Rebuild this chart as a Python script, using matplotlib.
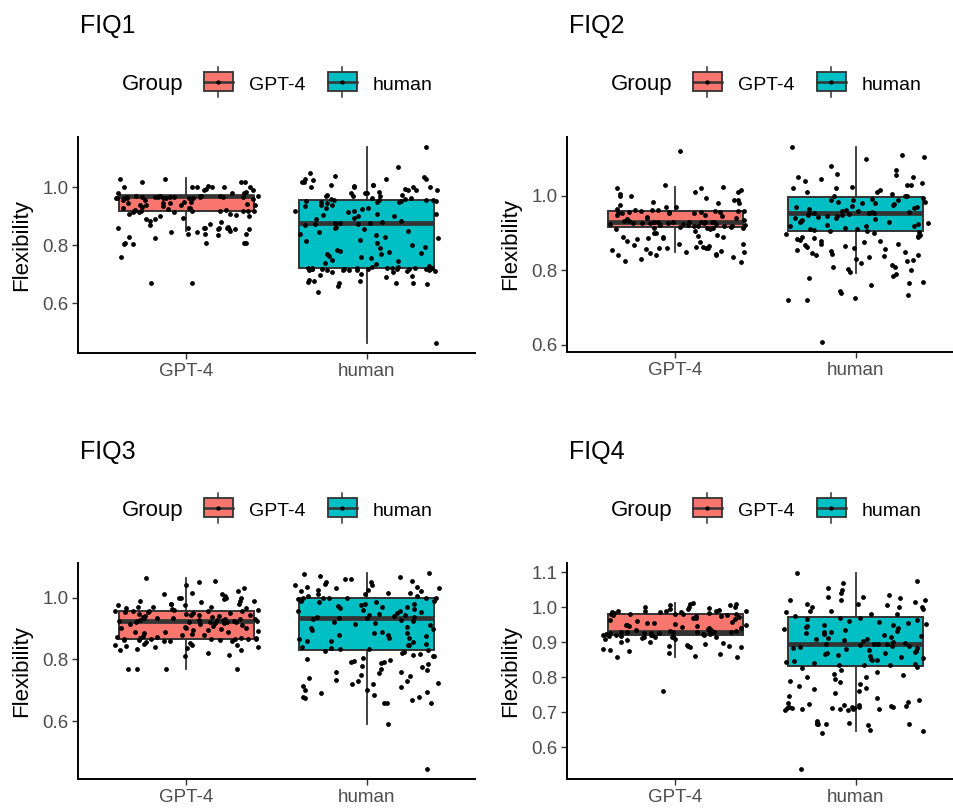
import matplotlib
matplotlib.use("Agg")
import matplotlib.pyplot as plt
from matplotlib.patches import Rectangle
import numpy as np

plt.rcParams['font.family'] = ['Liberation Sans', 'DejaVu Sans']

# ---------------- data ----------------
groups = ["GPT-4", "human"]
panel_titles = ["FIQ1", "FIQ2", "FIQ3", "FIQ4"]
fill_colors = ["#F8766D", "#00BFC4"]

gpt_fiq1 = [1.03, 1.03, 1.02, 1.02, 1.02,
            1.005, 1.0, 1.0, 1.0, 1.0, 1.0, 1.0, 0.995, 0.99, 0.99, 0.985, 0.98, 0.98, 0.98,
            0.972, 0.971, 0.970, 0.970, 0.969, 0.969, 0.968, 0.968, 0.968, 0.967, 0.967, 0.967,
            0.966, 0.966, 0.966, 0.965, 0.965, 0.965, 0.964, 0.964, 0.963, 0.963, 0.962,
            0.96, 0.955, 0.955, 0.95, 0.95, 0.948, 0.945, 0.945, 0.943, 0.94, 0.94, 0.94, 0.938,
            0.935, 0.933, 0.93, 0.93, 0.928, 0.925,
            0.922, 0.921, 0.92, 0.92, 0.919, 0.918, 0.918, 0.917, 0.917, 0.916, 0.915, 0.915,
            0.91, 0.91, 0.905, 0.90, 0.90, 0.895, 0.89, 0.89, 0.885, 0.88, 0.875, 0.87,
            0.862, 0.861, 0.86, 0.86, 0.86, 0.86, 0.859, 0.858, 0.858, 0.857, 0.855,
            0.85, 0.848, 0.845, 0.84, 0.84, 0.838, 0.835, 0.83, 0.825,
            0.81, 0.81, 0.808, 0.807, 0.806, 0.805, 0.76, 0.67, 0.67]

hum_fiq1 = [1.14, 1.07, 1.05, 1.04, 1.035, 1.03, 1.03, 1.03, 1.025, 1.02, 1.02, 1.01, 1.01, 1.01,
            1.005, 1.0, 1.0, 1.0, 1.0, 0.995, 0.99, 0.99, 0.99, 0.985, 0.98, 0.98, 0.98, 0.975,
            0.975, 0.97, 0.97, 0.97, 0.965, 0.965, 0.96, 0.96,
            0.957, 0.956, 0.955, 0.955, 0.954, 0.953, 0.952, 0.951, 0.95, 0.95,
            0.945, 0.94, 0.94, 0.935, 0.93, 0.93, 0.925, 0.92, 0.92, 0.915, 0.91, 0.91, 0.905,
            0.90, 0.90, 0.895, 0.89, 0.885, 0.88, 0.878, 0.877, 0.876, 0.875, 0.874, 0.87, 0.865,
            0.86, 0.855, 0.85, 0.845, 0.84, 0.835, 0.83, 0.825, 0.82, 0.815, 0.81, 0.80, 0.795,
            0.79, 0.785, 0.78, 0.778, 0.775, 0.772, 0.77, 0.765, 0.76, 0.755, 0.75, 0.745, 0.74,
            0.735, 0.73,
            0.725, 0.724, 0.723, 0.723, 0.722, 0.722, 0.722, 0.721, 0.721, 0.721, 0.72, 0.72,
            0.72, 0.72, 0.72, 0.719, 0.719, 0.719, 0.718, 0.718, 0.717, 0.717, 0.716, 0.716,
            0.715, 0.714, 0.713, 0.712, 0.71, 0.708,
            0.70, 0.698, 0.695, 0.69, 0.68, 0.678, 0.676, 0.675, 0.672, 0.67, 0.67, 0.668, 0.66,
            0.64, 0.463]

gpt_fiq2 = [1.12, 1.03, 1.025, 1.02, 1.02, 1.015, 1.01, 1.01, 1.005, 1.0, 1.0, 0.995, 0.99, 0.99,
            0.985, 0.98, 0.98, 0.975, 0.97, 0.97,
            0.965, 0.963, 0.962, 0.961, 0.96, 0.96, 0.96, 0.959, 0.958, 0.958, 0.957, 0.956,
            0.955, 0.955, 0.954, 0.953, 0.95, 0.948, 0.945, 0.943, 0.94, 0.94, 0.938, 0.935,
            0.933, 0.932, 0.931, 0.931, 0.93, 0.93, 0.93, 0.93, 0.929, 0.929, 0.928, 0.928, 0.927,
            0.927, 0.926, 0.925, 0.925, 0.924, 0.923, 0.922, 0.921, 0.92, 0.92, 0.919, 0.918,
            0.917, 0.916, 0.915, 0.915, 0.914, 0.913, 0.912, 0.91,
            0.905, 0.90, 0.90, 0.895, 0.893, 0.89, 0.89, 0.89, 0.888, 0.886, 0.885, 0.88, 0.875,
            0.87, 0.87, 0.868,
            0.865, 0.862, 0.862, 0.861, 0.86, 0.86, 0.86, 0.858, 0.855, 0.853, 0.85, 0.85, 0.848,
            0.845, 0.842, 0.84, 0.84, 0.835, 0.83, 0.825, 0.822]

hum_fiq2 = [1.132, 1.11, 1.105, 1.1, 1.08, 1.07, 1.06, 1.055, 1.05, 1.05, 1.045, 1.04, 1.035,
            1.03, 1.03, 1.025, 1.02, 1.02, 1.015, 1.01, 1.01, 1.005, 1.0, 1.0, 1.0,
            0.995, 0.993, 0.99, 0.99, 0.988, 0.985, 0.983, 0.98, 0.98, 0.978, 0.975, 0.973, 0.97,
            0.97, 0.968, 0.965, 0.963, 0.96, 0.96, 0.958, 0.957, 0.955, 0.955, 0.954, 0.953, 0.952,
            0.95, 0.948, 0.946, 0.945, 0.943, 0.94, 0.94, 0.938, 0.935, 0.933, 0.93, 0.93, 0.928,
            0.925, 0.922, 0.92, 0.92, 0.918, 0.915, 0.912, 0.91, 0.908, 0.906, 0.905, 0.904,
            0.90, 0.898, 0.895, 0.892, 0.89, 0.89, 0.888, 0.885, 0.882, 0.88, 0.878, 0.875, 0.872,
            0.87, 0.868, 0.865, 0.862, 0.86, 0.858, 0.855, 0.852, 0.85, 0.848, 0.845, 0.842, 0.84,
            0.838, 0.835, 0.83, 0.828, 0.825, 0.82, 0.815, 0.81, 0.81, 0.805, 0.80, 0.795,
            0.79, 0.785, 0.78, 0.77, 0.765, 0.76, 0.745, 0.74, 0.735, 0.725, 0.72, 0.72, 0.607]

gpt_fiq3 = [1.062, 1.055, 1.05, 1.04, 1.03, 1.02, 1.015, 1.01, 1.01, 1.005, 1.0, 1.0, 1.0, 1.0,
            0.995, 0.99, 0.99, 0.99, 0.985, 0.98, 0.98, 0.98, 0.975, 0.975, 0.97, 0.97, 0.968,
            0.965, 0.965, 0.962, 0.96, 0.96,
            0.958, 0.957, 0.956, 0.955, 0.955, 0.953, 0.952, 0.95, 0.95, 0.948, 0.946, 0.945,
            0.943, 0.942, 0.94, 0.94, 0.938, 0.937, 0.935, 0.934, 0.933, 0.932, 0.93, 0.93, 0.929,
            0.928, 0.927, 0.926, 0.925, 0.924, 0.923, 0.923, 0.922, 0.922,
            0.921, 0.92, 0.92, 0.918, 0.917, 0.915, 0.913, 0.91, 0.908, 0.905, 0.903, 0.90, 0.90,
            0.898, 0.896, 0.895, 0.893, 0.89, 0.89, 0.888, 0.885, 0.883, 0.88, 0.878, 0.875, 0.873,
            0.872, 0.87, 0.869, 0.868, 0.867, 0.867, 0.866, 0.866, 0.865, 0.865, 0.864, 0.864,
            0.862, 0.86, 0.86, 0.858, 0.855, 0.852, 0.85, 0.848, 0.845, 0.845, 0.842, 0.84, 0.84,
            0.838, 0.835, 0.832, 0.83, 0.82, 0.815, 0.81, 0.77, 0.77, 0.77, 0.77]

hum_fiq3 = [1.08, 1.075, 1.07, 1.065, 1.06, 1.06, 1.055, 1.05, 1.05, 1.045, 1.04, 1.04, 1.035,
            1.035, 1.03, 1.03, 1.025, 1.025, 1.02, 1.02, 1.015, 1.015, 1.01, 1.01, 1.005, 1.005,
            1.0, 1.0, 1.0, 1.0, 0.999, 0.999,
            0.995, 0.99, 0.99, 0.985, 0.985, 0.98, 0.98, 0.975, 0.972, 0.97, 0.968, 0.965, 0.962,
            0.96, 0.958, 0.955, 0.953, 0.95, 0.948, 0.945, 0.943, 0.94, 0.938, 0.936, 0.935, 0.934,
            0.93, 0.928, 0.925, 0.92, 0.918, 0.915, 0.91, 0.905, 0.90, 0.898, 0.895, 0.89, 0.887,
            0.885, 0.88, 0.878, 0.875, 0.87, 0.868, 0.865, 0.86, 0.858, 0.855, 0.85, 0.848, 0.845,
            0.84, 0.838, 0.835, 0.833,
            0.83, 0.828, 0.825, 0.82, 0.818, 0.815, 0.812, 0.81, 0.805, 0.80, 0.798, 0.795, 0.79,
            0.79, 0.788, 0.785, 0.78, 0.775, 0.77, 0.765, 0.76, 0.76, 0.755, 0.75, 0.745, 0.74,
            0.735, 0.73, 0.73, 0.725, 0.72, 0.72, 0.715, 0.71, 0.70, 0.70, 0.695, 0.69, 0.685,
            0.68, 0.68, 0.675, 0.67, 0.66, 0.66, 0.66, 0.59, 0.445]

gpt_fiq4 = [1.013, 1.01, 1.008, 1.005, 1.005, 1.0, 1.0, 1.0, 0.998, 0.995, 0.995, 0.993, 0.99,
            0.99, 0.99, 0.99, 0.988, 0.987, 0.985, 0.985, 0.983, 0.982,
            0.981, 0.98, 0.98, 0.98, 0.979, 0.978, 0.977, 0.976, 0.975,
            0.972, 0.97, 0.968, 0.965, 0.963, 0.96, 0.958, 0.956, 0.955, 0.953, 0.95, 0.95, 0.948,
            0.946, 0.945, 0.943, 0.94, 0.94, 0.938, 0.936, 0.935, 0.933, 0.932, 0.931, 0.93, 0.93,
            0.93, 0.929, 0.929, 0.928, 0.928, 0.927, 0.926, 0.925, 0.925, 0.924, 0.923, 0.922,
            0.921, 0.92, 0.92, 0.92, 0.919, 0.918, 0.918, 0.917, 0.916, 0.915, 0.915, 0.914,
            0.912, 0.91, 0.908, 0.905, 0.90, 0.90, 0.898, 0.895, 0.893, 0.89, 0.89, 0.888, 0.886,
            0.885, 0.88, 0.878, 0.875, 0.87, 0.865, 0.86, 0.858, 0.857, 0.76]

hum_fiq4 = [1.098, 1.075, 1.07, 1.055, 1.05, 1.04, 1.035, 1.03, 1.03, 1.025, 1.02, 1.02, 1.02,
            1.015, 1.01, 1.01, 1.005, 1.0, 1.0, 1.0, 0.995, 0.99, 0.99, 0.985, 0.98, 0.98, 0.975,
            0.97, 0.968, 0.965, 0.963, 0.96, 0.958, 0.955, 0.952, 0.95, 0.948, 0.945, 0.942, 0.94,
            0.938, 0.935, 0.932, 0.93, 0.928, 0.925, 0.922, 0.92, 0.918, 0.915, 0.912, 0.91, 0.908,
            0.905, 0.902, 0.90, 0.898, 0.896, 0.895, 0.895, 0.894, 0.894, 0.893,
            0.89, 0.888, 0.886, 0.884, 0.882, 0.88, 0.878, 0.875, 0.872, 0.87, 0.868, 0.865, 0.862,
            0.86, 0.858, 0.855, 0.853, 0.85, 0.848, 0.845, 0.843, 0.84, 0.838, 0.836, 0.835, 0.834,
            0.83, 0.825, 0.82, 0.815, 0.81, 0.805, 0.80, 0.80, 0.795, 0.79, 0.785, 0.78, 0.775,
            0.77, 0.765, 0.76, 0.755, 0.745, 0.74, 0.735, 0.73,
            0.725, 0.722, 0.72, 0.72, 0.718, 0.718, 0.716, 0.715, 0.715, 0.714, 0.713, 0.712,
            0.712, 0.711, 0.71, 0.71, 0.709, 0.708, 0.707, 0.705,
            0.675, 0.67, 0.668, 0.667, 0.666, 0.665, 0.665, 0.664, 0.65, 0.645, 0.64, 0.537]

# box statistics: (whisker low, q1, median, q3, whisker high)
box_gpt = [(0.85, 0.918, 0.970, 0.972, 1.032),
           (0.85, 0.916, 0.930, 0.960, 1.024),
           (0.77, 0.867, 0.923, 0.958, 1.062),
           (0.858, 0.920, 0.929, 0.980, 1.013)]
box_hum = [(0.463, 0.723, 0.876, 0.955, 1.138),
           (0.792, 0.905, 0.953, 0.996, 1.132),
           (0.592, 0.831, 0.935, 0.998, 1.078),
           (0.646, 0.833, 0.895, 0.972, 1.098)]

yticks = [[0.6, 0.8, 1.0], [0.6, 0.8, 1.0], [0.6, 0.8, 1.0], [0.6, 0.7, 0.8, 0.9, 1.0, 1.1]]
points_gpt = [gpt_fiq1, gpt_fiq2, gpt_fiq3, gpt_fiq4]
points_hum = [hum_fiq1, hum_fiq2, hum_fiq3, hum_fiq4]

# ---------------- layout (pixels) ----------------
W, H = 954, 811
fig = plt.figure(figsize=(W / 100, H / 100), dpi=100)
fig.patch.set_facecolor("white")

rects = [(78, 137, 475, 353), (567, 137, 954, 352), (78, 563, 475, 779), (567, 563, 954, 779)]
unit_px = 397 / 2.2
EDGE = "#333333"


def jitter(n, center, seed):
    # deterministic hash-based horizontal spread (width +/- 0.4, like geom_jitter)
    k = np.arange(n, dtype=float) + seed * 101.0
    frac = (np.sin(k * 12.9898 + 78.233) * 43758.5453) % 1.0
    return center + (frac - 0.5) * 0.8


for i, (l, t, r, b) in enumerate(rects):
    ax = fig.add_axes([l / W, 1 - b / H, (r - l) / W, (b - t) / H])
    stats = []
    for s, lab in zip((box_gpt[i], box_hum[i]), groups):
        stats.append(dict(whislo=s[0], q1=s[1], med=s[2], q3=s[3], whishi=s[4], label=lab))
    bp = ax.bxp(stats, positions=[1, 2], widths=0.75, patch_artist=True, showfliers=False,
                showcaps=False,
                boxprops=dict(edgecolor=EDGE, linewidth=1.4),
                whiskerprops=dict(color=EDGE, linewidth=1.3),
                medianprops=dict(color=EDGE, linewidth=3.4, solid_capstyle="butt"))
    for patch, c in zip(bp["boxes"], fill_colors):
        patch.set_facecolor(c)
    for j, (pos, vals) in enumerate(((1, points_gpt[i]), (2, points_hum[i]))):
        v = np.array(vals)
        ax.scatter(jitter(len(v), pos, 2 * i + j + 1), v, s=12, color="black", zorder=3,
                   linewidths=0)

    allv = np.concatenate([points_gpt[i], points_hum[i]])
    lo, hi = allv.min(), allv.max()
    pad = 0.05 * (hi - lo)
    ax.set_ylim(lo - pad, hi + pad)
    ax.set_xlim(0.4, 0.4 + (r - l) / unit_px)
    ax.set_xticks([1, 2])
    ax.set_xticklabels(groups)
    ax.set_yticks(yticks[i])
    ax.set_yticklabels([f"{v:.1f}" for v in yticks[i]])
    for sp in ("top", "right"):
        ax.spines[sp].set_visible(False)
    for sp in ("left", "bottom"):
        ax.spines[sp].set_color("black")
        ax.spines[sp].set_linewidth(1.4)
    ax.tick_params(axis="both", colors=EDGE, length=4, width=1.0, labelsize=13.5,
                   labelcolor="#4D4D4D", pad=3)
    ax.set_facecolor("white")

# ---------------- overlay: titles, y labels, legends ----------------
ov = fig.add_axes([0, 0, 1, 1])
ov.set_xlim(0, W)
ov.set_ylim(H, 0)
ov.axis("off")

for i, (l, t, r, b) in enumerate(rects):
    ov.text(l + 2, t - 104, panel_titles[i], fontsize=18, color="black", va="baseline", ha="left")
    ov.text(l - 56, (t + b) / 2, "Flexibility", fontsize=16, rotation=90, ha="center",
            va="center", color="black")
    ov.text(l + 44, t - 47, "Group", fontsize=16, va="baseline", ha="left", color="black")
    for k, (kx, lx) in enumerate(((126, 171), (250, 295))):
        x0 = l + kx
        cx = x0 + 14.5
        ov.plot([cx, cx], [t - 70, t - 40], color=EDGE, lw=1.1, zorder=1)
        ov.add_patch(Rectangle((x0, t - 65), 29, 19, facecolor=fill_colors[k], edgecolor=EDGE,
                               lw=1.3, zorder=2))
        ov.plot([x0, x0 + 29], [t - 55.5, t - 55.5], color=EDGE, lw=1.8, zorder=3)
        ov.scatter([cx], [t - 55.5], s=10, color="black", zorder=4, linewidths=0)
        ov.text(l + lx, t - 47, groups[k], fontsize=14, va="baseline", ha="left", color="black")

fig.savefig("out.png", dpi=100, facecolor="white")
